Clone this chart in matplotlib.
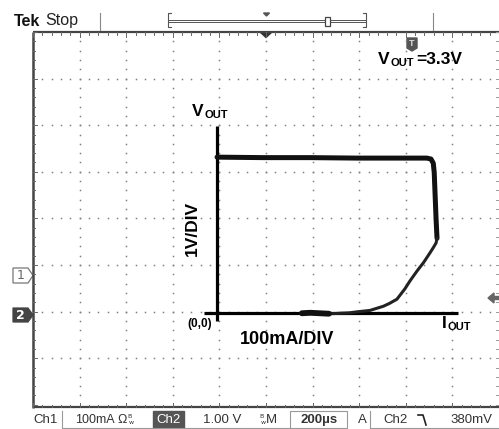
import matplotlib
matplotlib.use('Agg')
import matplotlib.pyplot as plt
import numpy as np
from matplotlib.patches import Polygon, Rectangle

W, H = 499, 429
DPI = 100

# ---- Trace data: I_OUT (mA) vs V_OUT (V) ----
upper_i = [0, 100, 200, 300, 400, 450, 459, 464, 466, 468, 470, 472]
upper_v = [3.33, 3.32, 3.32, 3.31, 3.31, 3.31, 3.29, 3.20, 3.00, 2.50, 2.00, 1.60]
fold_i = [472, 470, 464, 457, 443, 429, 414, 403, 386, 370, 357, 328, 300, 285, 243, 180]
fold_v = [1.60, 1.50, 1.40, 1.29, 1.08, 0.90, 0.69, 0.52, 0.30, 0.21, 0.15, 0.06, 0.03, 0.01, -0.01, 0.0]
short_i = [182, 200, 220, 240]
short_v = [0.0, 0.01, 0.0, -0.01]

# annotation axes drawn on the screen (mA, V)
axis_x_range = [-28, 517]
axis_y_range = [-0.17, 4.0]

# scope display settings
x_lim = (-395, 605)   # mA  (100 mA/div, 10 div)
y_lim = (-2.0, 6.0)   # V   (1 V/div, 8 div)

fig = plt.figure(figsize=(W / DPI, H / DPI), dpi=DPI)
fig.patch.set_facecolor('white')

# ---------- overlay axes in pixel space for the instrument chrome ----------
ax0 = fig.add_axes([0, 0, 1, 1])
ax0.set_xlim(0, W)
ax0.set_ylim(H, 0)
ax0.axis('off')

L, T, R, B = 33, 32, 499, 407
div = (R - L) / 10.0
sub = div / 5.0
grid_c = '#808080'

# grid dots
for k in range(1, 10):
    x = L + k * div
    ys = T + np.arange(1, 40) * sub
    ax0.plot(np.full_like(ys, x), ys, ls='none', marker='s', ms=1.1, mew=0, color=grid_c)
for j in range(1, 8):
    y = T + j * div
    xs = L + np.arange(1, 50) * sub
    ax0.plot(xs, np.full_like(xs, y), ls='none', marker='s', ms=1.1, mew=0, color=grid_c)

# borders
bc = '#444444'
ax0.plot([L, R], [T, T], color=bc, lw=1.6, solid_capstyle='butt')
ax0.plot([L, L], [T, B + 1], color=bc, lw=1.8, solid_capstyle='butt')
ax0.plot([L, R], [B, B], color=bc, lw=1.6, solid_capstyle='butt')
# border ticks
for m in range(0, 51):
    x = L + m * sub
    ln = 4.5 if m % 5 == 0 else 2.5
    ax0.plot([x, x], [T, T + ln], color='#666', lw=0.7)
    ax0.plot([x, x], [B, B - ln], color='#666', lw=0.7)
for m in range(0, 41):
    y = T + m * sub
    ln = 4.5 if m % 5 == 0 else 2.5
    ax0.plot([L, L + ln], [y, y], color='#666', lw=0.7)
    ax0.plot([R - 3, R], [y, y], color='#999', lw=0.7)

# trigger position triangle on top border
ax0.add_patch(Polygon([[260, T], [272, T], [266, T + 5.5]], closed=True, color='#333'))

# ---------- top status bar ----------
ax0.text(14, 21, 'Tek', fontsize=11.5, fontweight='bold', family='Liberation Sans',
         ha='left', va='center', color='#111')
ax0.text(45, 21, 'Stop', fontsize=11.5, family='Liberation Sans', ha='left', va='center', color='#222')
ax0.plot([100, 100], [13, 30], color='#888', lw=0.8)
ax0.plot([433, 433], [13, 30], color='#888', lw=0.8)
# record bracket
ax0.plot([171, 168, 168, 171], [13, 13, 27, 27], color='#555', lw=0.8)
ax0.plot([363, 366, 366, 363], [13, 13, 27, 27], color='#555', lw=0.8)
ax0.add_patch(Rectangle((168, 19.5), 198, 2.5, fill=False, ec='#555', lw=0.7))
ax0.add_patch(Polygon([[263.5, 13], [269.5, 13], [266.5, 16]], closed=True, color='#555'))
ax0.add_patch(Rectangle((325.5, 17), 5, 9, fc='white', ec='#444', lw=0.9))

# T marker
ax0.add_patch(Polygon([[407, 38], [417, 38], [417, 48], [412, 51], [407, 48]], closed=True, color='#555'))
ax0.text(412, 43.5, 'T', fontsize=6.5, fontweight='bold', color='#ddd', ha='center', va='center',
         family='Liberation Sans')

# channel markers
ax0.add_patch(Polygon([[13, 268], [28, 268], [33, 275.5], [28, 283], [13, 283]], closed=True,
                      fc='white', ec='#777', lw=0.9))
ax0.text(20.5, 275.8, '1', fontsize=9, color='#666', ha='center', va='center', family='DejaVu Sans')
ax0.add_patch(Polygon([[13, 308], [28, 308], [33, 315], [28, 322], [13, 322]], closed=True,
                      fc='#444', ec='#444', lw=0.9))
ax0.text(20.5, 315.3, '2', fontsize=9, color='white', fontweight='bold', ha='center', va='center',
         family='DejaVu Sans')

# trigger level arrow on right
ax0.add_patch(Polygon([[488, 298], [494, 293], [494, 296.5], [499, 296.5], [499, 299.5],
                       [494, 299.5], [494, 303]], closed=True, color='#666'))

# ---------- bottom status bar ----------
ty = 420
sfont = dict(fontsize=9.5, family='Liberation Sans', va='center', color='#333')
ax0.text(33, ty, 'Ch1', ha='left', **sfont)
ax0.plot([62, 62], [411, 428], color='#999', lw=0.8)
ax0.text(75, ty, '100mA', ha='left', fontsize=9, family='Liberation Sans', va='center', color='#333')
ax0.text(117, ty, 'Ω', ha='left', fontsize=9, family='Liberation Sans', va='center', color='#333')
ax0.text(127, 416, 'B', ha='left', fontsize=4.5, family='DejaVu Sans', va='center', color='#333')
ax0.text(129, 422, 'w', ha='left', fontsize=4.5, family='DejaVu Sans', va='center', color='#333')
ax0.add_patch(Rectangle((153, 411), 31, 17, color='#555'))
ax0.text(168.5, ty, 'Ch2', ha='center', fontsize=9.5, family='Liberation Sans', va='center', color='white')
ax0.text(203, ty, '1.00 V', ha='left', **sfont)
ax0.text(259, 416, 'B', ha='left', fontsize=4.5, family='DejaVu Sans', va='center', color='#333')
ax0.text(261, 422, 'w', ha='left', fontsize=4.5, family='DejaVu Sans', va='center', color='#333')
ax0.text(266, ty, 'M', ha='left', **sfont)
ax0.add_patch(Rectangle((290, 411), 57, 17, fill=False, ec='#999', lw=0.8))
ax0.text(319, ty, '200µs', ha='center', fontsize=9.5, fontweight='bold', family='Liberation Sans',
         va='center', color='#333')
ax0.text(358, ty, 'A', ha='left', **sfont)
ax0.plot([370, 370], [411, 428], color='#999', lw=0.8)
ax0.plot([62, 290], [428, 428], color='#999', lw=0.8)
ax0.plot([370, 499], [428, 428], color='#999', lw=0.8)
ax0.text(383, ty, 'Ch2', ha='left', **sfont)
ax0.plot([418, 423, 426], [415, 415, 425], color='#222', lw=1.2)
ax0.text(450, ty, '380mV', ha='left', **sfont)

# ---------- data axes: the XY trace ----------
ax = fig.add_axes([L / W, 1 - B / H, (R - L) / W, (B - T) / H])
ax.set_xlim(*x_lim)
ax.set_ylim(*y_lim)
ax.axis('off')
ax.patch.set_alpha(0)

# annotation axes
ax.plot([0, 0], axis_y_range, color='black', lw=2.3, solid_capstyle='butt')
ax.plot(axis_x_range, [0, 0], color='black', lw=2.3, solid_capstyle='butt')

# trace
ax.plot(upper_i, upper_v, color='#111', lw=3.6, solid_joinstyle='round', solid_capstyle='round')
ax.plot(fold_i, fold_v, color='#222', lw=2.2, solid_joinstyle='round', solid_capstyle='round')
ax.plot(short_i, short_v, color='#111', lw=4.2, solid_capstyle='round')

# labels on screen (bold, Arial-like)
lf = dict(family='Liberation Sans', fontweight='bold', color='black')
ax0.text(192, 111, 'V', fontsize=12.5, ha='left', va='center', **lf)
ax0.text(205, 115, 'OUT', fontsize=8, ha='left', va='center', **lf)
ax0.text(378, 59, 'V', fontsize=12.5, ha='left', va='center', **lf)
ax0.text(390.5, 63, 'OUT', fontsize=8, ha='left', va='center', **lf)
ax0.text(416, 59, '=3.3V', fontsize=12.5, ha='left', va='center', **lf)
ax0.text(192, 228, '1V/DIV', fontsize=12.5, rotation=90, ha='center', va='center', **lf)
ax0.text(199.5, 324, '(0,0)', fontsize=8.5, ha='center', va='center', **lf)
ax0.text(287.5, 339.5, '100mA/DIV', fontsize=13, ha='center', va='center', **lf)
ax0.text(442, 323, 'I', fontsize=12.5, ha='left', va='center', **lf)
ax0.text(448, 327, 'OUT', fontsize=8, ha='left', va='center', **lf)

fig.savefig('out.png', dpi=DPI, facecolor='white')
